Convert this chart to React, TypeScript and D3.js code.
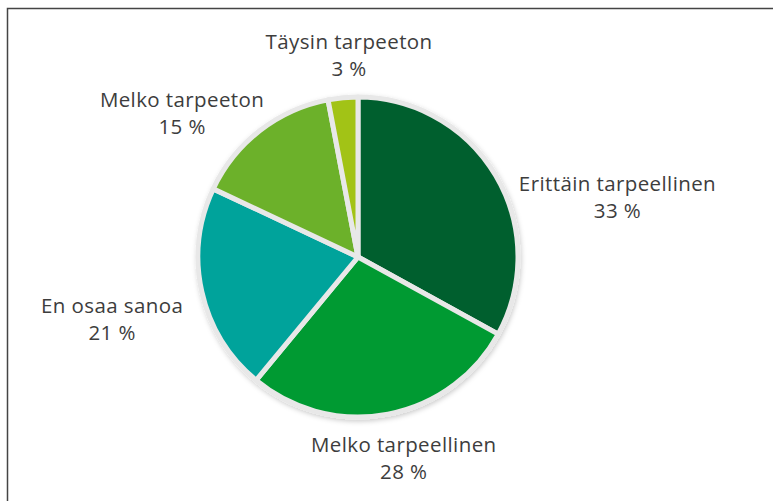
import React from "react";
import * as d3 from "d3";

// data
const categories = [
  "Erittäin tarpeellinen",
  "Melko tarpeellinen",
  "En osaa sanoa",
  "Melko tarpeeton",
  "Täysin tarpeeton",
];
const shares = [33, 28, 21, 15, 3];
const colors = ["#005f2d", "#009a33", "#00a39b", "#6cb12a", "#a2c317"];

// label nudges relative to the outer centroid (layout only)
const labelNudge: [number, number][] = [
  [77, 46],
  [6, -9],
  [-39, 14],
  [-46, 22],
  [11, 8],
];

const W = 773;
const H = 501;
const cx = 358;
const cy = 257;
const radius = 160;

export default function App() {
  const pie = d3
    .pie<number>()
    .value((d) => d)
    .sort(null);
  const arcs = pie(shares);

  const arc = d3.arc<d3.PieArcDatum<number>>().innerRadius(0).outerRadius(radius);
  const labelArc = d3
    .arc<d3.PieArcDatum<number>>()
    .innerRadius(radius + 52)
    .outerRadius(radius + 52);

  return (
    <svg
      width={W}
      height={H}
      style={{ position: "absolute", left: 0, top: 0, background: "#fff" }}
    >
      <defs>
        <filter id="shadow" x="-20%" y="-20%" width="140%" height="140%">
          <feDropShadow dx="1" dy="2" stdDeviation="2.5" floodColor="#000" floodOpacity="0.2" />
        </filter>
      </defs>

      {/* frame */}
      <path d={`M7.5,${H} V8.5 H${W}`} fill="none" stroke="#444" strokeWidth={1.5} />

      <g transform={`translate(${cx},${cy})`} filter="url(#shadow)">
        {arcs.map((a, i) => (
          <path
            key={categories[i]}
            d={arc(a) || ""}
            fill={colors[i]}
            stroke="#e8e8e8"
            strokeWidth={5}
            strokeLinejoin="round"
          />
        ))}
      </g>

      <g transform={`translate(${cx},${cy})`}>
        {arcs.map((a, i) => {
          const [lx, ly] = labelArc.centroid(a);
          const x = lx + labelNudge[i][0];
          const y = ly + labelNudge[i][1];
          return (
            <text
              key={categories[i]}
              x={x}
              y={y}
              textAnchor="middle"
              fontFamily="'Open Sans', sans-serif"
              fontSize={20.5}
              letterSpacing={0.4}
              fill="#3d3d3d"
            >
              <tspan x={x} dy="-0.22em">
                {categories[i]}
              </tspan>
              <tspan x={x} dy="27">
                {shares[i]} %
              </tspan>
            </text>
          );
        })}
      </g>
    </svg>
  );
}
